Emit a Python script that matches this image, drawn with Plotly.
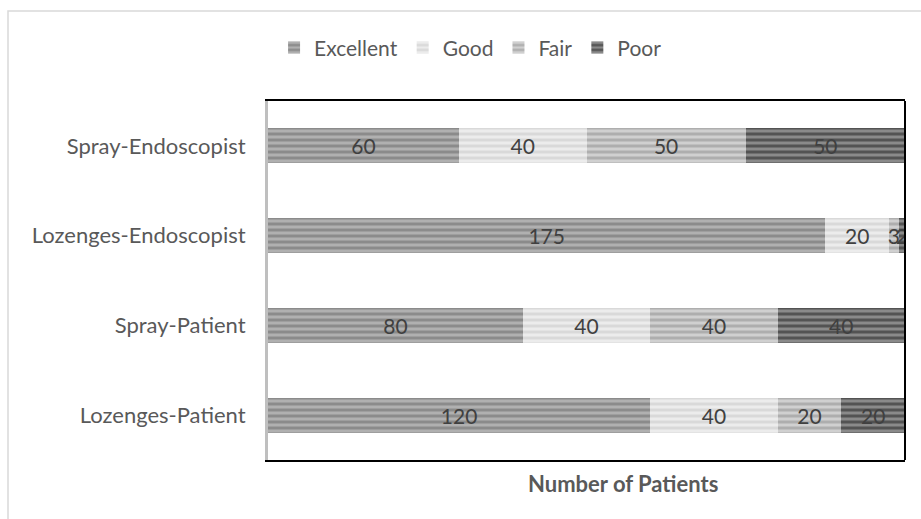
import plotly.graph_objects as go

categories = ["Lozenges-Patient", "Spray-Patient", "Lozenges-Endoscopist", "Spray-Endoscopist"]
series_names = ["Excellent", "Good", "Fair", "Poor"]
excellent = [120, 80, 175, 60]
good = [40, 40, 20, 40]
fair = [20, 40, 3, 50]
poor = [20, 40, 2, 50]
values = [excellent, good, fair, poor]

styles = {
    "Excellent": dict(bg="#b0b0b0", fg="#666666"),
    "Good": dict(bg="#ececec", fg="#c6c6c6"),
    "Fair": dict(bg="#d0d0d0", fg="#8c8c8c"),
    "Poor": dict(bg="#8a8a8a", fg="#1c1c1c"),
}

FONT = "Lato, Liberation Sans, sans-serif"
FS = 22

fig = go.Figure()
for name, vals in zip(series_names, values):
    st = styles[name]
    fig.add_trace(go.Bar(
        y=categories, x=vals, name=name, orientation="h",
        marker=dict(color=st["bg"], line=dict(width=0),
                    pattern=dict(shape="-", bgcolor=st["bg"], fgcolor=st["fg"],
                                 size=6, solidity=0.5, fillmode="overlay")),
        text=[str(v) for v in vals], textposition="inside", insidetextanchor="middle",
        textfont=dict(family=FONT, size=FS - 1, color="#404040"),
    ))

fig.update_layout(
    barmode="stack", bargap=0.61,
    width=921, height=519,
    margin=dict(l=268, r=16, t=101, b=59),
    paper_bgcolor="white", plot_bgcolor="white",
    font=dict(family=FONT, size=FS, color="#595959"),
    uniformtext=dict(minsize=FS - 1, mode="show"),
    showlegend=True,
    legend=dict(orientation="h", x=0.318, xanchor="center", y=1.148, yanchor="middle",
                font=dict(size=FS - 1, color="#595959"), traceorder="normal",
                itemwidth=30, tracegroupgap=0),
    xaxis=dict(range=[0, 200], showticklabels=False, showgrid=False, zeroline=False,
               showline=True, linecolor="#000000", linewidth=2, mirror=True, ticks=""),
    yaxis=dict(categoryorder="array", categoryarray=categories, showgrid=False,
               showline=True, linecolor="#bfbfbf", linewidth=3, ticks="outside",
               ticklen=15, tickcolor="rgba(0,0,0,0)", zeroline=False,
               tickfont=dict(size=FS, color="#595959")),
    annotations=[dict(text="<b>Number of Patients</b>", xref="paper", yref="paper",
                      x=(623 - 268) / 637, y=(460 - 483) / 359, xanchor="center",
                      yanchor="middle", showarrow=False,
                      font=dict(size=FS, color="#595959"))],
    shapes=[
        dict(type="line", xref="x domain", yref="y domain", x0=1, x1=1, y0=0, y1=1,
             line=dict(color="#000000", width=2), layer="above"),
        dict(type="rect", xref="paper", yref="paper", x0=(8 - 268) / 637, x1=1.2,
             y0=-0.3, y1=(460 - 11) / 359, line=dict(color="#d9d9d9", width=1.5),
             layer="below"),
    ],
)

fig.write_html("out.html")
